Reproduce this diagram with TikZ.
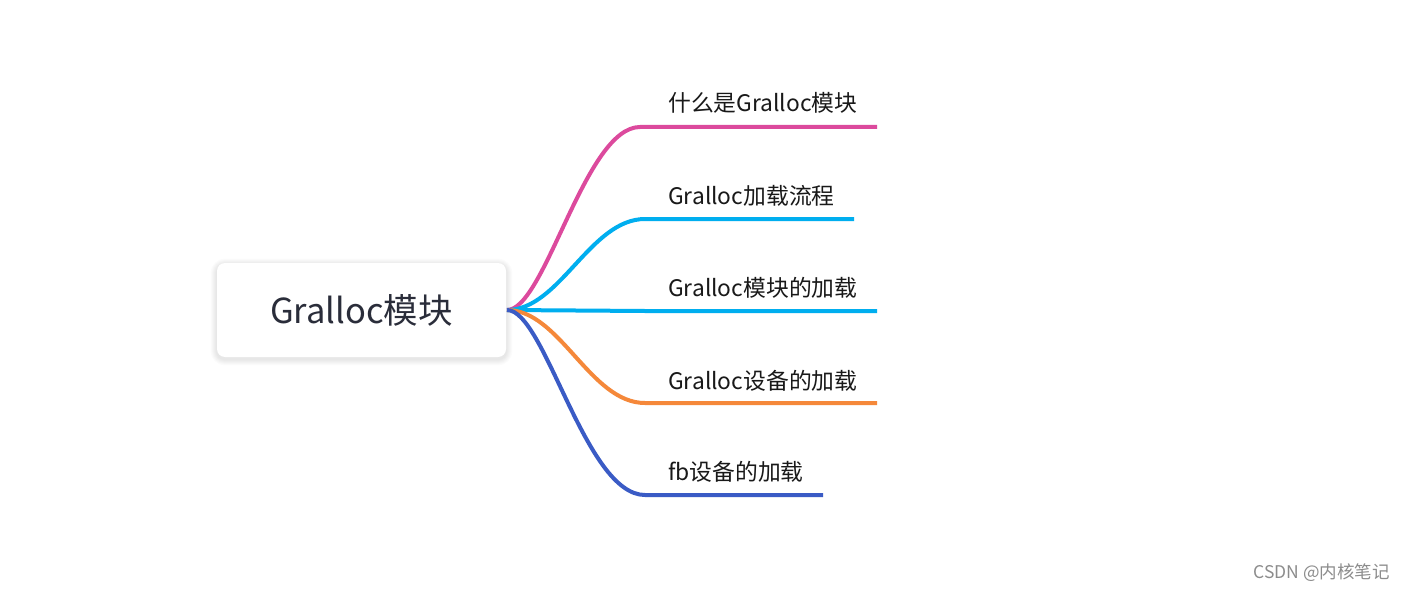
\documentclass[tikz,border=0pt]{standalone}
\usepackage{fontspec}
\setmainfont{Noto Sans CJK SC}
\usetikzlibrary{backgrounds}
\definecolor{pinkbr}{HTML}{DC4A9D}
\definecolor{cyanbr}{HTML}{00AEEF}
\definecolor{orangebr}{HTML}{F5883A}
\definecolor{bluebr}{HTML}{3A5BC5}
\definecolor{roottext}{HTML}{2A2D3A}
\begin{document}
\begin{tikzpicture}[
    x=1pt, y=-1pt,
    branch/.style={line width=4pt},
    leaf/.style={anchor=west, inner sep=0pt, text=black!90,
      font=\fontsize{22.8}{27}\selectfont},
    rootbox/.style={draw=none, fill=white, rounded corners=8pt,
      minimum width=289pt, minimum height=94pt, text=roottext,
      font=\fontsize{34.5}{40}\selectfont}
]
\useasboundingbox (0,0) rectangle (1405,591);

% root
\node[rootbox] (root) at (361.5,310) {Gralloc模块};
\coordinate (hub) at (507,310);

% page and soft shadow under the root box
\begin{scope}[on background layer]
  \fill[white] (0,0) rectangle (1405,591);
  \foreach \i in {1,...,6}
    \fill[black, opacity=0.014, rounded corners=8pt+\i pt]
      ([xshift=-\i pt, yshift=\i pt-2pt]root.north west)
      rectangle ([xshift=\i pt, yshift=-\i pt-2pt]root.south east);
\end{scope}

% leaves
\node[leaf] (l1) at (668,103) {什么是Gralloc模块};
\node[leaf] (l2) at (668,196) {Gralloc加载流程};
\node[leaf] (l3) at (668,288) {Gralloc模块的加载};
\node[leaf] (l4) at (668,381) {Gralloc设备的加载};
\node[leaf] (l5) at (668,472) {fb设备的加载};

% line ends
\coordinate (s1) at (640,127); \coordinate (e1) at (877,127);
\coordinate (s2) at (645,219); \coordinate (e2) at (854,219);
\coordinate (s3) at (645,311); \coordinate (e3) at (877,311);
\coordinate (s4) at (645,403); \coordinate (e4) at (877,403);
\coordinate (s5) at (645,495); \coordinate (e5) at (823,495);

% branches
\draw[branch, pinkbr] (hub) .. controls (545,310) and (585,127) .. (s1) -- (e1);
\draw[branch, cyanbr] (hub) .. controls (560,310) and (590,219) .. (s2) -- (e2);
\draw[branch, cyanbr] (hub) -- (s3) -- (e3);
\draw[branch, orangebr] (hub) .. controls (560,310) and (590,403) .. (s4) -- (e4);
\draw[branch, bluebr] (hub) .. controls (545,310) and (585,495) .. (s5) -- (e5);

% watermark
\node[anchor=east, inner sep=0pt, text=black!45,
  font=\fontsize{17.5}{21}\selectfont] (mark) at (1390,573) {CSDN @内核笔记};
\end{tikzpicture}
\end{document}
